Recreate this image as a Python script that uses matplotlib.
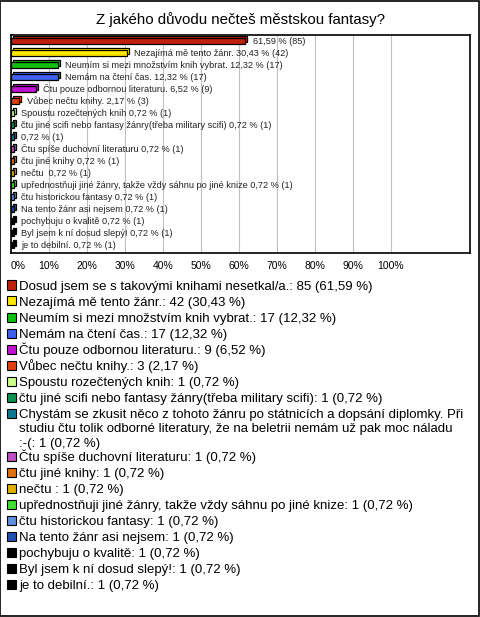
import textwrap
import matplotlib
matplotlib.use("Agg")
import matplotlib.pyplot as plt
import matplotlib.transforms as mtransforms
from matplotlib.patches import Rectangle

plt.rcParams['font.family'] = ['Liberation Sans', 'DejaVu Sans']

# survey answers (order as in the chart)
names = [
    "Dosud jsem se s takovými knihami nesetkal/a.",
    "Nezajímá mě tento žánr.",
    "Neumím si mezi množstvím knih vybrat.",
    "Nemám na čtení čas.",
    "Čtu pouze odbornou literaturu.",
    "Vůbec nečtu knihy.",
    "Spoustu rozečtených knih",
    "čtu jiné scifi nebo fantasy žánry(třeba military scifi)",
    "Chystám se zkusit něco z tohoto žánru po státnicích a dopsání diplomky. "
    "Při studiu čtu tolik odborné literatury, že na beletrii nemám už pak moc náladu :-(",
    "Čtu spíše duchovní literaturu",
    "čtu jiné knihy",
    "nečtu ",
    "upřednostňuji jiné žánry, takže vždy sáhnu po jiné knize",
    "čtu historickou fantasy",
    "Na tento žánr asi nejsem",
    "pochybuju o kvalitě",
    "Byl jsem k ní dosud slepý!",
    "je to debilní.",
]
# labels printed next to the bars (long ones left out)
bar_names = [
    "", "Nezajímá mě tento žánr.", "Neumím si mezi množstvím knih vybrat.",
    "Nemám na čtení čas.", "Čtu pouze odbornou literaturu.", "Vůbec nečtu knihy.",
    "Spoustu rozečtených knih",
    "čtu jiné scifi nebo fantasy žánry(třeba military scifi)", "",
    "Čtu spíše duchovní literaturu", "čtu jiné knihy", "nečtu ",
    "upřednostňuji jiné žánry, takže vždy sáhnu po jiné knize",
    "čtu historickou fantasy", "Na tento žánr asi nejsem", "pochybuju o kvalitě",
    "Byl jsem k ní dosud slepý!", "je to debilní.",
]
counts = [85, 42, 17, 17, 9, 3, 1, 1, 1, 1, 1, 1, 1, 1, 1, 1, 1, 1]
percents = [61.59, 30.43, 12.32, 12.32, 6.52, 2.17, 0.72, 0.72, 0.72,
            0.72, 0.72, 0.72, 0.72, 0.72, 0.72, 0.72, 0.72, 0.72]
colors = ["#C0200E", "#FFE800", "#10C010", "#4060F0", "#C010D0", "#E04010",
          "#CCFF88", "#109050", "#107890", "#C050C0", "#E07010", "#E0B000",
          "#40E030", "#6090E0", "#2050B0", "#000000", "#000000", "#000000"]
ticks = [0, 10, 20, 30, 40, 50, 60, 70, 80, 90, 100]

W, H = 480, 617

def fmt(v):
    return f"{v:.2f}".replace(".", ",")

fig = plt.figure(figsize=(W / 100, H / 100), dpi=100)
fig.patch.set_facecolor("white")
fig.patches.append(Rectangle((0.001, 0.001), 0.997, 0.997, transform=fig.transFigure,
                             fill=False, edgecolor="black", linewidth=1.2))

fig.text(0.5, 1 - 20 / H, "Z jakého důvodu nečteš městskou fantasy?",
         ha="center", va="center", fontsize=10.8)

ax = fig.add_axes([11 / W, 1 - 253 / H, 459 / W, 218 / H])
y = list(range(len(counts)))

# 3D-ish depth face, shifted up and right
shift = mtransforms.offset_copy(ax.transData, fig=fig, x=2, y=2, units="dots")
ax.barh(y, percents, height=0.45, color=colors, edgecolor="black",
        linewidth=0.9, transform=shift, zorder=2)
ax.barh(y, percents, height=0.45, color=colors, edgecolor="black",
        linewidth=0.9, zorder=3)

for i in y:
    txt = f"{bar_names[i]} {fmt(percents[i])} % ({counts[i]})".strip()
    ax.annotate(txt, (percents[i], i), xytext=(5.5, 0), textcoords="offset points",
                va="center", ha="left", fontsize=6.6, color="#222222", zorder=4)

ax.set_xlim(0, 120.8)
ax.set_ylim(17.65, -0.5)
ax.set_xticks(ticks)
ax.set_xticklabels([f"{t}%" for t in ticks], fontsize=7.5)
ax.get_xticklabels()[0].set_ha("left")
ax.tick_params(axis="x", length=0, pad=6)
ax.set_yticks([])
ax.grid(axis="x", color="#C0C0C0", linewidth=0.8, zorder=0)
for s in ax.spines.values():
    s.set_linewidth(1.2)

# legend drawn by hand so the long entry wraps like the original
ypix = 285
for i in y:
    lines = textwrap.wrap(f"{names[i]}: {counts[i]} ({fmt(percents[i])} %)", width=76)
    fig.patches.append(Rectangle((7 / W, 1 - (ypix + 4.5) / H), 9 / W, 9 / H,
                                 transform=fig.transFigure, facecolor=colors[i],
                                 edgecolor="black", linewidth=0.8))
    for k, line in enumerate(lines):
        fig.text(19 / W, 1 - (ypix + 4.7 + 14.5 * k) / H, line, ha="left",
                 va="baseline", fontsize=9.5)
    ypix += 16 + 13.5 * (len(lines) - 1)

fig.savefig("out.png", dpi=100, facecolor="white")
